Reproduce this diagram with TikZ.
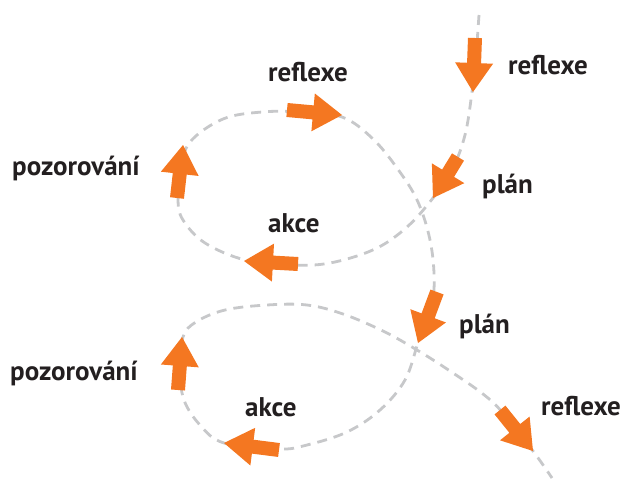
\documentclass[tikz,border=0pt]{standalone}
\usepackage{fontspec}
\setmainfont{PT Sans}
\usetikzlibrary{calc}
\definecolor{arrorange}{RGB}{244,119,33}
\definecolor{dashgrey}{RGB}{199,200,202}
\definecolor{txt}{RGB}{35,31,32}
\tikzset{
  lbl/.style={anchor=base west,inner sep=0pt,text=txt,font=\fontsize{27}{30}\selectfont\bfseries},
  pathline/.style={draw=dashgrey,line width=2.8pt,dash pattern=on 10pt off 7pt},
  fatarrow/.style={fill=arrorange,draw=none}
}
\newcommand\blockarrow[2]{%
  \fill[fatarrow]
    ($(#1)!7pt!90:(#2)$) --
    ($($(#2)!29pt!(#1)$)!7pt!90:(#2)$) --
    ($($(#2)!29pt!(#1)$)!19pt!90:(#2)$) --
    (#2) --
    ($($(#2)!29pt!(#1)$)!19pt!-90:(#2)$) --
    ($($(#2)!29pt!(#1)$)!7pt!-90:(#2)$) --
    ($(#1)!7pt!-90:(#2)$) -- cycle;}
\begin{document}
\begin{tikzpicture}[x=1pt,y=-1pt]
\useasboundingbox (0,0) rectangle (622,482);
% dashed path
\draw[pathline] plot[smooth,tension=0.6] coordinates {
 (479,15) (476,55) (472,92) (465,135) (452,170) (433,198) (407,227) (375,249)
 (330,263) (290,265) (245,260) (205,243) (183,220) (178,200) (181,170) (190,142)
 (223,119) (262,112) (300,112) (342,117) (372,138) (397,168) (418,202) (431,245)
 (434,290) (427,320) (418,343) (405,380) (380,410) (347,432) (307,445) (279,449)
 (224,443) (200,425) (184,400) (180,370) (183,337) (196,322) (225,310) (267,305)
 (307,305) (343,314) (383,331) (417,350) (450,371) (483,394) (503,413) (533,451) (552,478)};
% arrows
\coordinate (a1t) at (475,38);  \coordinate (a1h) at (473,92);
\coordinate (a2t) at (458,157); \coordinate (a2h) at (433,198);
\coordinate (a3t) at (298,264); \coordinate (a3h) at (244,261);
\coordinate (a4t) at (177,198); \coordinate (a4h) at (183,145);
\coordinate (a5t) at (287,110); \coordinate (a5h) at (342,115);
\coordinate (a6t) at (437,292); \coordinate (a6h) at (418,343);
\coordinate (a7t) at (279,450); \coordinate (a7h) at (224,443);
\coordinate (a8t) at (178,390); \coordinate (a8h) at (182,337);
\coordinate (a9t) at (500,410); \coordinate (a9h) at (533,451);
\blockarrow{a1t}{a1h}
\blockarrow{a2t}{a2h}
\blockarrow{a3t}{a3h}
\blockarrow{a4t}{a4h}
\blockarrow{a5t}{a5h}
\blockarrow{a6t}{a6h}
\blockarrow{a7t}{a7h}
\blockarrow{a8t}{a8h}
\blockarrow{a9t}{a9h}
% labels
\node[lbl] (l1) at (508,74) {reflexe};
\node[lbl] (l2) at (268,81) {reflexe};
\node[lbl] (l3) at (12,175) {pozorování};
\node[lbl] (l4) at (482,193) {plán};
\node[lbl] (l5) at (268,232) {akce};
\node[lbl] (l6) at (459,333) {plán};
\node[lbl] (l7) at (10,380) {pozorování};
\node[lbl] (l8) at (245,416) {akce};
\node[lbl] (l9) at (541,415) {reflexe};
\end{tikzpicture}
\end{document}
